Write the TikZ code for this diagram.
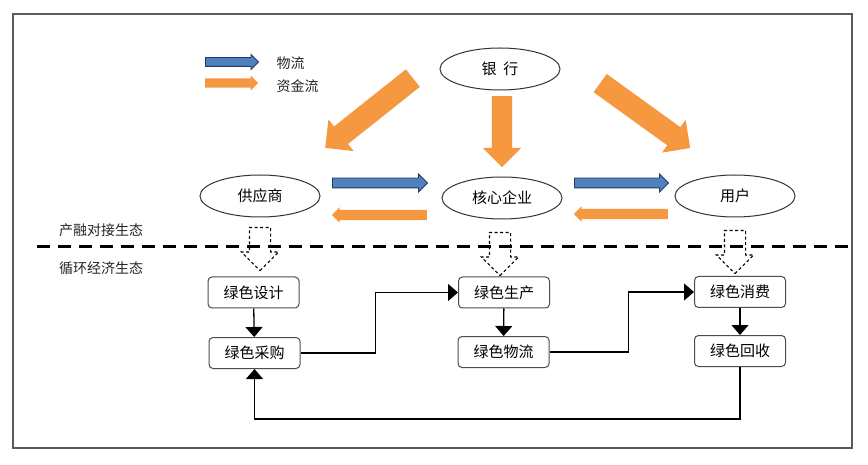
\documentclass[tikz,border=0pt]{standalone}
\usepackage{fontspec}
\newfontfamily\cjk{Noto Sans CJK SC}
\usetikzlibrary{shapes.geometric,shapes.arrows,arrows.meta}
\definecolor{blueA}{RGB}{79,129,189}
\definecolor{navyA}{RGB}{31,56,100}
\definecolor{orangeA}{RGB}{246,152,64}
\definecolor{frameC}{RGB}{90,90,90}
\tikzset{
  txt/.style={font=\cjk\fontsize{14}{16}\selectfont, text=black!85},
  party/.style={ellipse, draw=black!80, line width=1, fill=white, minimum width=120, minimum height=42, inner sep=0, font=\cjk\fontsize{15}{17}\selectfont},
  stage/.style={draw=black!70, line width=1, rounded corners=4, fill=white, minimum width=91, minimum height=31, inner sep=0, font=\cjk\fontsize{15}{17}\selectfont},
  conn/.style={line width=1.3, -{Triangle[length=10,width=17]}},
  bluearr/.style={single arrow, draw=navyA, line width=0.9, fill=blueA, inner xsep=0, single arrow head indent=0, anchor=tail},
  orgarr/.style={single arrow, draw=none, fill=orangeA, inner xsep=0, single arrow head indent=0, anchor=tail},
  hollowarr/.style={single arrow, draw=black, line width=1.1, dash pattern=on 3 off 2.5, inner xsep=0, inner ysep=10, single arrow head indent=0, single arrow head extend=8, anchor=tail, rotate=-90},
}
\begin{document}
\begin{tikzpicture}[x=1pt,y=-1pt]
\useasboundingbox (0,0) rectangle (868,465);
\fill[white] (0,0) rectangle (868,465);
\draw[frameC, line width=2] (13,14) rectangle (852,448);

% legend
\node[bluearr, inner ysep=4, single arrow head extend=3, minimum height=53] (lgb) at (205,62) {};
\node[orgarr, inner ysep=4.5, single arrow head extend=3, minimum height=53] (lgo) at (205,83) {};
\node[txt, anchor=west] (lgbt) at (273,63) {物流};
\node[txt, anchor=west] (lgot) at (273,86) {资金流};

% parties
\node[party] (bank) at (500,69) {银\ \ 行};
\node[party] (sup) at (260,196) {供应商};
\node[party] (core) at (502,198) {核心企业};
\node[party] (user) at (735,196) {用户};

% bank money flows
\node[orgarr, inner ysep=11, single arrow head extend=9, minimum height=112, rotate=218.5] (bl) at (413,78) {};
\node[orgarr, inner ysep=10, single arrow head extend=9, minimum height=71, rotate=-90] (bm) at (502,96) {};
\node[orgarr, inner ysep=11, single arrow head extend=9, minimum height=111, rotate=-35.8] (br) at (600,83) {};

% goods and money flows between parties
\node[bluearr, inner ysep=4.5, single arrow head extend=4, minimum height=95] (f1) at (332,183) {};
\node[orgarr, inner ysep=5, single arrow head extend=2.5, minimum height=95, rotate=180] (m1) at (427,215) {};
\node[bluearr, inner ysep=4.5, single arrow head extend=4, minimum height=94] (f2) at (574,183) {};
\node[orgarr, inner ysep=5, single arrow head extend=2.5, minimum height=94, rotate=180] (m2) at (668,214) {};

% separator and labels
\draw[line width=3, dash pattern=on 13 off 8] (37,247) -- (852,247);
\node[txt] (lab1) at (101,230) {产融对接生态};
\node[txt] (lab2) at (101,268) {循环经济生态};

% hollow dashed arrows
\node[hollowarr, minimum height=43] (h1) at (260,227) {};
\node[hollowarr, minimum height=43] (h2) at (500,232) {};
\node[hollowarr, minimum height=43] (h3) at (735,230) {};

% stages
\node[stage] (ds) at (253.5,292.5) {绿色设计};
\node[stage] (cg) at (254.5,353) {绿色采购};
\node[stage] (sc) at (504,292.5) {绿色生产};
\node[stage] (wl) at (503.5,352) {绿色物流};
\node[stage] (xf) at (740,292) {绿色消费};
\node[stage] (hs) at (740,351) {绿色回收};

\draw[conn] (ds) -- (cg);
\draw[conn] (sc) -- (wl);
\draw[conn] (xf) -- (hs);
\draw[conn] (cg.east) -- ++(75,0) |- (sc.west);
\draw[conn] (wl.east) -- ++(79,0) |- (xf.west);
\draw[conn] (hs.south) -- ++(0,52) -| (cg.south);
\end{tikzpicture}
\end{document}
